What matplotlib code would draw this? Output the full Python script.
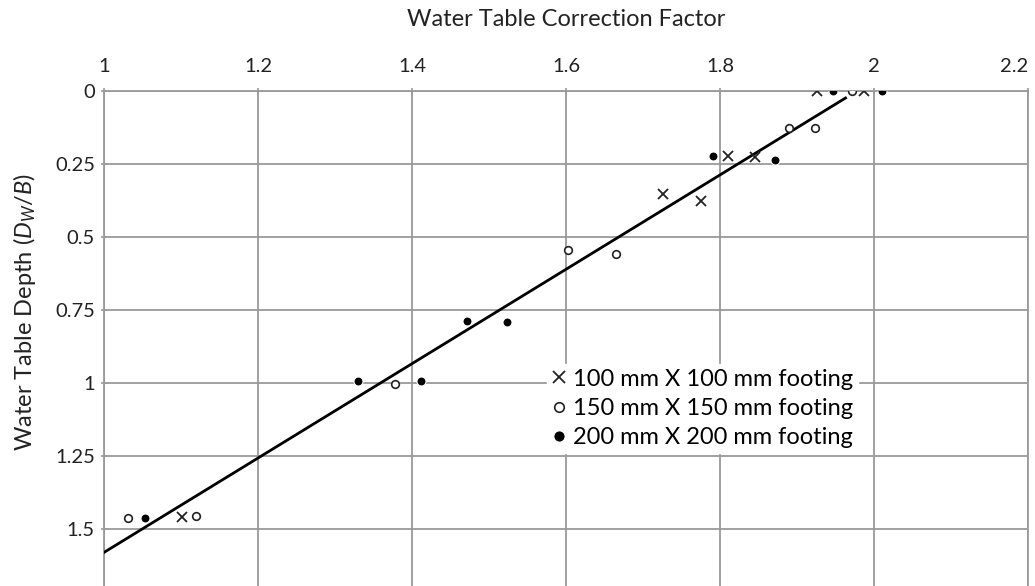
import matplotlib
matplotlib.use("Agg")
import matplotlib.pyplot as plt

# data
x_100 = [1.926, 1.987, 1.811, 1.846, 1.726, 1.775, 1.101]
y_100 = [0.0, 0.0, 0.222, 0.225, 0.353, 0.377, 1.458]

x_150 = [1.971, 1.889, 1.924, 1.603, 1.665, 1.378, 1.031, 1.120]
y_150 = [0.0, 0.127, 0.127, 0.545, 0.558, 1.003, 1.461, 1.455]

x_200 = [1.947, 2.010, 1.791, 1.871, 1.472, 1.524, 1.330, 1.412, 1.053]
y_200 = [0.0, 0.0, 0.222, 0.236, 0.787, 0.790, 0.992, 0.993, 1.461]

# trend line end points
fit_x = [1.0, 1.963]
fit_y = [1.58, 0.024]

x_ticks = [1, 1.2, 1.4, 1.6, 1.8, 2, 2.2]
x_labels = ["1", "1.2", "1.4", "1.6", "1.8", "2", "2.2"]
y_ticks = [0, 0.25, 0.5, 0.75, 1, 1.25, 1.5]
y_labels = ["0", "0.25", "0.5", "0.75", "1", "1.25", "1.5"]

labels = ["100 mm X 100 mm footing", "150 mm X 150 mm footing", "200 mm X 200 mm footing"]

plt.rcParams['font.family'] = ['Lato', 'DejaVu Sans']
plt.rcParams['mathtext.fontset'] = 'custom'
plt.rcParams['mathtext.it'] = 'Lato:italic'
plt.rcParams['mathtext.rm'] = 'Lato'

W, H = 1035, 586
fig = plt.figure(figsize=(W / 100, H / 100), dpi=100)
ax = fig.add_axes([104 / W, 0, (1028 - 104) / W, 1 - 91 / H])

grid_c = '#9a9a9a'
txt_c = '#222222'
ax.set_xlim(1, 2.2)
ax.set_ylim(1.695, 0)
ax.set_xticks(x_ticks)
ax.set_xticklabels(x_labels)
ax.set_yticks(y_ticks)
ax.set_yticklabels(y_labels)
ax.xaxis.tick_top()
ax.grid(True, color=grid_c, linewidth=1.3)
ax.set_axisbelow(True)
for s in ['left', 'top', 'right']:
    ax.spines[s].set_color(grid_c)
    ax.spines[s].set_linewidth(1.3)
ax.spines['bottom'].set_visible(False)
ax.tick_params(axis='both', colors=grid_c, labelcolor=txt_c, labelsize=14.5,
               length=5, width=1.2, direction='inout')
ax.tick_params(axis='x', pad=9)
ax.tick_params(axis='y', pad=4)
ax.get_xticklabels()[-1].set_horizontalalignment('right')

ax.plot(fit_x, fit_y, color='black', linewidth=2.0, zorder=3)

ax.plot(x_100, y_100, 'x', color=txt_c, markersize=6.5, markeredgewidth=1.3,
        linestyle='none', label=labels[0], zorder=4)
ax.plot(x_150, y_150, 'o', color=txt_c, markerfacecolor='white', markersize=5.5,
        markeredgewidth=1.2, linestyle='none', label=labels[1], zorder=4)
ax.plot(x_200, y_200, 'o', color='black', markersize=6.5, markeredgecolor='white',
        markeredgewidth=0.8, linestyle='none', label=labels[2], zorder=4)

leg = ax.legend(loc='upper left', bbox_to_anchor=((535 - 104) / (1028 - 104), 1 - (352 - 91) / (H - 91)),
                frameon=True, fancybox=False, edgecolor='white', framealpha=1,
                fontsize=17, handlelength=0.6, handletextpad=0.3, labelspacing=0.35,
                borderpad=0.2, markerscale=1.25)

fig.text(566 / W, 1 - 20 / H, "Water Table Correction Factor", ha='center', va='center',
         fontsize=17, color=txt_c)
fig.text(25 / W, 1 - 312 / H, r"Water Table Depth ($D_W$/$B$)", ha='center', va='center',
         rotation=90, fontsize=17, color=txt_c)

fig.savefig("out.png", dpi=100)
